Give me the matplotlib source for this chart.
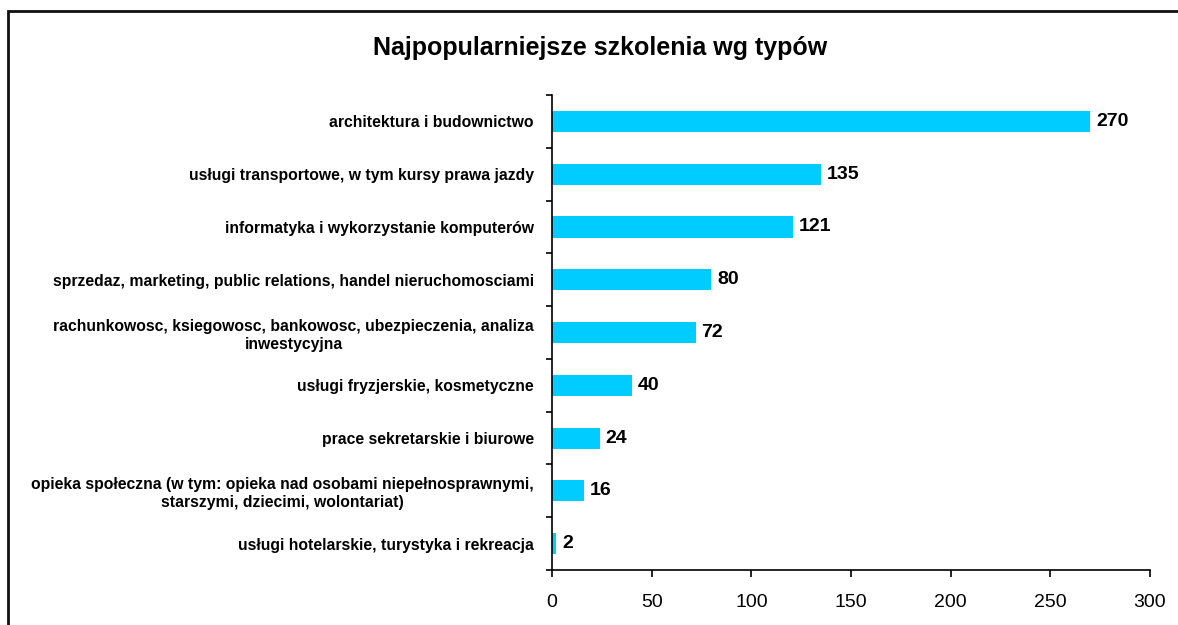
import matplotlib.pyplot as plt
from matplotlib.patches import Rectangle
import numpy as np

plt.rcParams['font.family'] = ['Liberation Sans', 'DejaVu Sans']

categories = [
    'architektura i budownictwo',
    'usługi transportowe, w tym kursy prawa jazdy',
    'informatyka i wykorzystanie komputerów',
    'sprzedaz, marketing, public relations, handel nieruchomosciami',
    'rachunkowosc, ksiegowosc, bankowosc, ubezpieczenia, analiza\ninwestycyjna',
    'usługi fryzjerskie, kosmetyczne',
    'prace sekretarskie i biurowe',
    'opieka społeczna (w tym: opieka nad osobami niepełnosprawnymi,\nstarszymi, dziecimi, wolontariat)',
    'usługi hotelarskie, turystyka i rekreacja',
]
counts = [270, 135, 121, 80, 72, 40, 24, 16, 2]
x_ticks = [0, 50, 100, 150, 200, 250, 300]

fig = plt.figure(figsize=(11.78, 6.25), dpi=100)
ax = fig.add_axes([552 / 1178, 55 / 625, 598 / 1178, 475 / 625])

# outer chart border
fig.patches.append(Rectangle((8 / 1178, -0.1), 1.2, 1 - 11 / 625 + 0.1,
                             transform=fig.transFigure, fill=False,
                             edgecolor='#111111', linewidth=2))

y = np.arange(len(categories))
ax.barh(y, counts, height=0.4, color='#00CCFF')
for yi, v in zip(y, counts):
    ax.text(v + 3, yi, str(v), va='center', ha='left',
            fontsize=14, fontweight='bold')

ax.set_ylim(len(categories) - 0.5, -0.5)
ax.set_xlim(0, 300)
ax.set_xticks(x_ticks)
ax.tick_params(axis='x', labelsize=14, length=5, width=1.2, direction='out', pad=12)

ax.set_yticks(y)
ax.set_yticklabels(categories, fontsize=11.3, fontweight='bold',
                   multialignment='center', linespacing=1.25)
ax.set_yticks(np.arange(-0.5, len(categories)), minor=True)
ax.tick_params(axis='y', which='major', length=0, pad=13)
ax.tick_params(axis='y', which='minor', length=4, width=1.2, direction='out')

for side in ['top', 'right']:
    ax.spines[side].set_visible(False)
for side in ['left', 'bottom']:
    ax.spines[side].set_linewidth(1.2)

fig.text(600 / 1178, 1 - 48 / 625, 'Najpopularniejsze szkolenia wg typów',
         ha='center', va='center', fontsize=18, fontweight='bold')

fig.savefig('out.png', dpi=100)
